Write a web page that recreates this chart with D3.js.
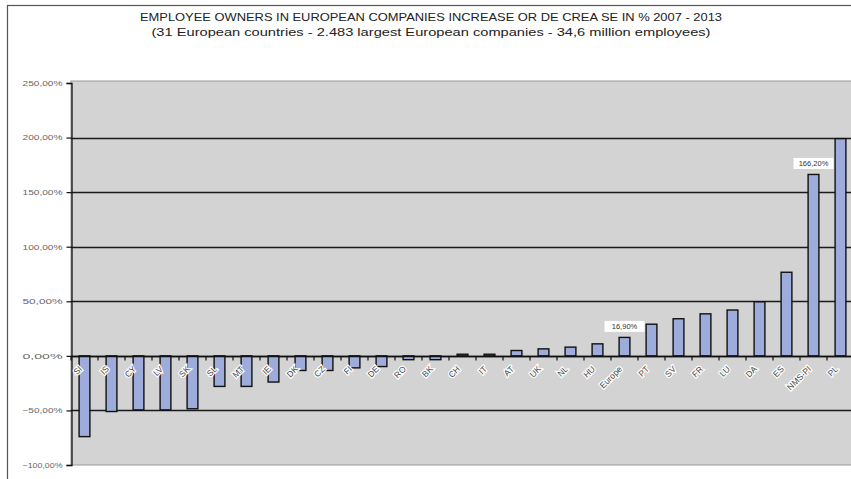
<!DOCTYPE html>
<html><head><meta charset="utf-8">
<script src="https://cdn.jsdelivr.net/npm/d3@7/dist/d3.min.js"></script>
<style>body{margin:0;background:#fff;} svg{display:block;}</style>
</head><body>
<svg id="c" width="851" height="479"></svg>
<script>
const categories = ["SI","IS","CY","LV","SK","SL","MT","IE","DK","CZ","FI","DE","RO","BK","CH","IT","AT","UK","NL","HU","Europe","PT","SV","FR","LU","DA","ES","NMS-PI","PL"];
const values = [-74,-51,-49.5,-49.5,-48.5,-28,-28,-24,-13.4,-13.4,-11,-9.8,-3.5,-3.5,1.5,1.5,4.9,6.4,8,11,16.9,29,34,38.5,42,49.5,76.6,166.2,199];
const yTicks = [-100,-50,0,50,100,150,200,250];
const dataLabels = [{cat:"Europe", text:"16,90%"},{cat:"NMS-PI", text:"166,20%"}];
const titleLines = ["EMPLOYEE OWNERS IN EUROPEAN COMPANIES INCREASE OR DE CREA SE IN % 2007 - 2013",
  "(31 European countries - 2.483 largest European companies - 34,6 million employees)"];

const svg = d3.select("#c");
const L = 71, R = 854, T = 83, B = 465;
const x = d3.scaleBand().domain(categories).range([L, R]).paddingInner(0.6).paddingOuter(0.3);
const y = d3.scaleLinear().domain([-100, 250]).range([B, T]);
const fmt = v => d3.format(".2f")(v).replace(".", ",") + "%";

// chart frame
svg.append("rect").attr("x",7.5).attr("y",5.5).attr("width",900).attr("height",600)
  .attr("fill","#fff").attr("stroke","#555").attr("stroke-width",1.2);

// title
const tl = svg.append("g").attr("font-family","'Liberation Sans Narrow','Liberation Sans',Arial,sans-serif")
  .attr("fill","#222").attr("font-size","11px").attr("text-anchor","middle");
tl.append("text").attr("x",431).attr("y",21).attr("textLength",582).attr("lengthAdjust","spacingAndGlyphs").text(titleLines[0]);
tl.append("text").attr("x",431).attr("y",36).attr("textLength",559).attr("lengthAdjust","spacingAndGlyphs").text(titleLines[1]);

// plot area
svg.append("rect").attr("x",L).attr("y",y(250)-2).attr("width",R-L).attr("height",B-y(250)+2)
  .attr("fill","#d3d3d3").attr("stroke","#999").attr("stroke-width",1);

// gridlines
svg.append("g").selectAll("line").data(yTicks.filter(v=>v>-100 && v<250)).join("line")
  .attr("x1",L).attr("x2",R).attr("y1",d=>Math.round(y(d))+0.5).attr("y2",d=>Math.round(y(d))+0.5)
  .attr("stroke","#1a1a1a").attr("stroke-width",1.3);

// y axis
const ya = svg.append("g").attr("transform",`translate(${L+0.5},0)`)
  .call(d3.axisLeft(y).tickValues(yTicks).tickFormat(fmt).tickSize(5).tickPadding(4));
ya.select(".domain").attr("stroke","#111").attr("stroke-width",1.3);
ya.selectAll(".tick line").attr("stroke","#111").attr("stroke-width",1.2);
ya.selectAll(".tick text").attr("font-family","'Liberation Sans',Arial,sans-serif")
  .attr("font-size","7.5px").attr("fill","#666").attr("textLength",40).attr("lengthAdjust","spacingAndGlyphs");

// bars
svg.append("g").selectAll("rect").data(categories).join("rect")
  .attr("x",d=>x(d)).attr("width",x.bandwidth())
  .attr("y",(d,i)=>y(Math.max(0,values[i])))
  .attr("height",(d,i)=>Math.abs(y(values[i])-y(0)))
  .attr("fill","#9dacdb").attr("stroke","#111").attr("stroke-width",1.4);

// category axis at zero
const xa = svg.append("g").attr("transform",`translate(0,${Math.round(y(0))+0.5})`);
xa.append("line").attr("x1",L).attr("x2",R).attr("stroke","#111").attr("stroke-width",1.4);
const step = x.step();
xa.selectAll("line.tk").data(d3.range(categories.length+1)).join("line").attr("class","tk")
  .attr("x1",i=>L+i*step).attr("x2",i=>L+i*step).attr("y1",0).attr("y2",4)
  .attr("stroke","#111").attr("stroke-width",1.2);
xa.selectAll("text").data(categories).join("text")
  .attr("transform",d=>`translate(${x(d)+x.bandwidth()/2-4},${11}) rotate(-45)`)
  .attr("text-anchor","end").attr("dy","0.35em")
  .attr("font-family","'Liberation Sans',Arial,sans-serif").attr("font-size","8.5px")
  .attr("fill","#444").attr("stroke","#fff").attr("stroke-width",2.4).attr("paint-order","stroke")
  .text(d=>d);

// data labels
const dl = svg.append("g").selectAll("g").data(dataLabels).join("g")
  .attr("transform",d=>{const i=categories.indexOf(d.cat);return `translate(${x(d.cat)+x.bandwidth()/2},${y(values[i])-11})`;});
dl.append("rect").attr("x",-20).attr("y",-5.5).attr("width",40).attr("height",11).attr("fill","#fff");
dl.append("text").attr("text-anchor","middle").attr("dy","0.35em")
  .attr("font-family","'Liberation Sans',Arial,sans-serif").attr("font-size","7.5px").attr("fill","#333")
  .text(d=>d.text);
</script>
</body></html>
